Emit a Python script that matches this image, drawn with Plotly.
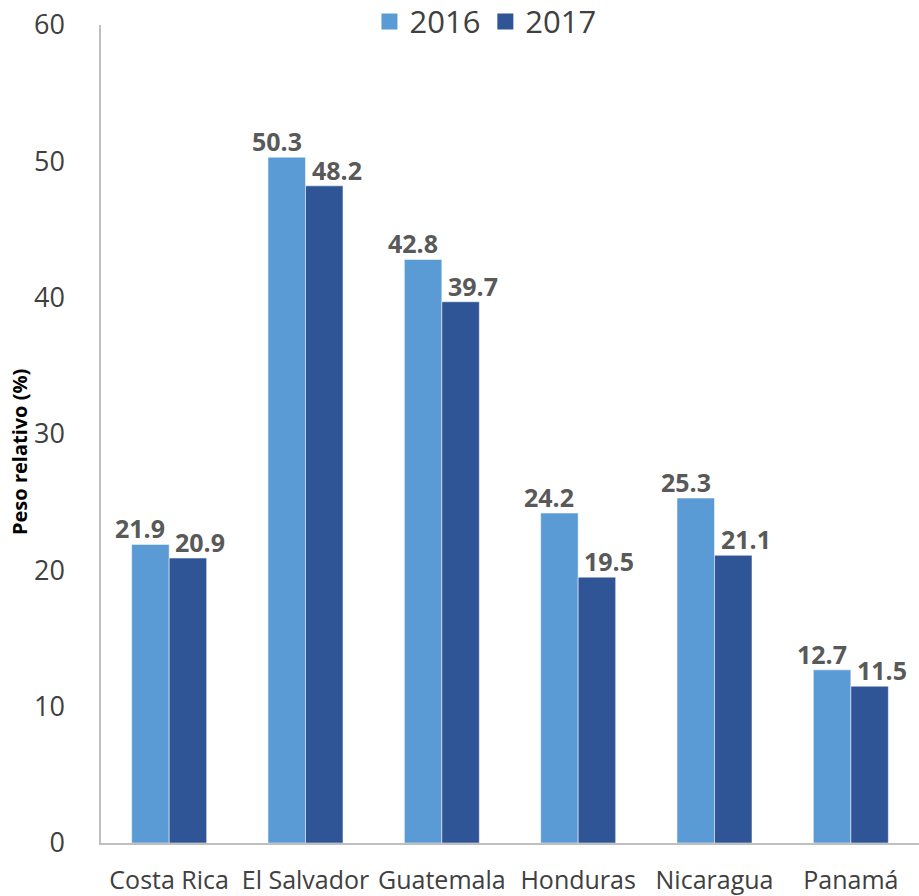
import plotly.graph_objects as go

countries = ["Costa Rica", "El Salvador", "Guatemala", "Honduras", "Nicaragua", "Panamá"]
v2016 = [21.9, 50.3, 42.8, 24.2, 25.3, 12.7]
v2017 = [20.9, 48.2, 39.7, 19.5, 21.1, 11.5]
years = ["2016", "2017"]
colors = ["#5B9BD5", "#2F5597"]

FONT = "Open Sans"
LBL = dict(family=FONT, size=25, color="#595959", weight="bold")

fig = go.Figure()
for name, vals, col in zip(years, [v2016, v2017], colors):
    fig.add_trace(go.Bar(name=name, x=countries, y=vals, showlegend=False,
                         marker=dict(color=col, line=dict(color="white", width=0.5))))
# legend entries with larger square swatches
for name, col in zip(years, colors):
    fig.add_trace(go.Scatter(name=name, x=[None], y=[None], mode="markers",
                             marker=dict(symbol="square", size=16, color=col)))

# data labels (Excel-like placement: 2016 shifted left, 2017 shifted right)
for vals, xs in zip([v2016, v2017], [-29, 31]):
    for c, v in zip(countries, vals):
        fig.add_annotation(x=c, y=v, text=f"{v:.1f}", showarrow=False, xanchor="center",
                           yanchor="bottom", xshift=xs, yshift=-3, font=LBL)

# y-axis title
fig.add_annotation(xref="paper", yref="paper", x=-0.099, y=0.478, text="<b>Peso relativo (%)</b>",
                   textangle=-90, showarrow=False, xanchor="center", yanchor="middle",
                   font=dict(size=20, color="#000000", family=FONT))

fig.update_layout(
    width=919, height=896,
    margin=dict(l=101, r=0, t=25, b=53, autoexpand=False),
    plot_bgcolor="white", paper_bgcolor="white",
    barmode="group", bargap=0.45, bargroupgap=0,
    font=dict(family=FONT, color="#404040"),
    legend=dict(orientation="h", x=0.47, xanchor="center", y=1.004, yanchor="middle",
                font=dict(size=31, color="#404040", family=FONT), bgcolor="rgba(0,0,0,0)",
                itemwidth=30),
)
fig.update_xaxes(showline=True, linecolor="#BFBFBF", linewidth=1.5, ticks="", showgrid=False,
                 tickfont=dict(size=25, color="#404040", family=FONT), ticklabelstandoff=14)
fig.update_yaxes(range=[0, 60], dtick=10, showline=True, linecolor="#BFBFBF", linewidth=1.5,
                 showgrid=False, zeroline=False, ticks="", tickfont=dict(size=27, color="#404040", family=FONT),
                 ticklabelstandoff=29, ticklabeloverflow="allow")

fig.write_html("out.html", config={"displayModeBar": False},
               post_script="document.body.style.margin='0';")
